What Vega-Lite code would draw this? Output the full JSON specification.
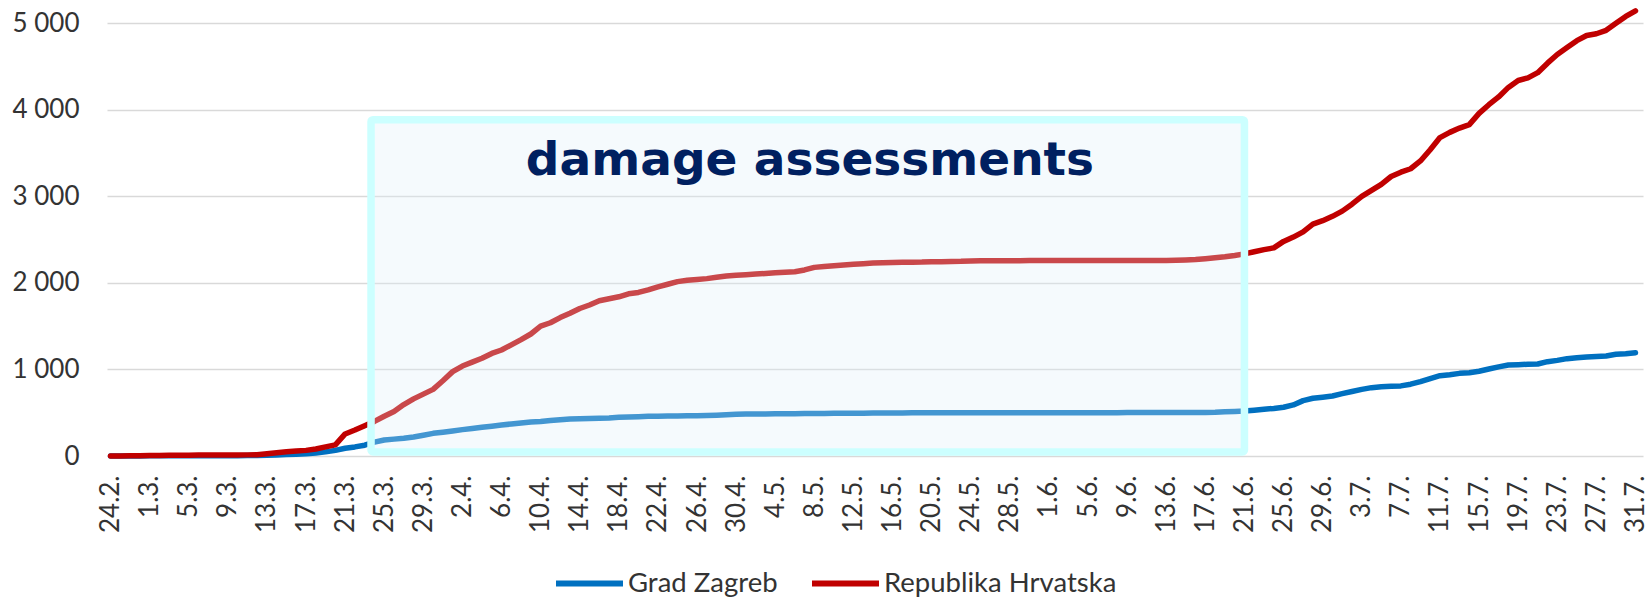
{
  "$schema": "https://vega.github.io/schema/vega-lite/v6.json",
  "width": 1536,
  "height": 456,
  "autosize": {"type": "none"},
  "padding": {"left": 107, "top": 0, "right": 9, "bottom": 142},
  "background": "white",
  "config": {"view": {"stroke": null}},
  "layer": [
    {
      "data": {"values": [
        {"i":0,"date":"24.2.","Grad Zagreb":0,"Republika Hrvatska":0},
        {"i":1,"date":"25.2.","Grad Zagreb":1,"Republika Hrvatska":1},
        {"i":2,"date":"26.2.","Grad Zagreb":1,"Republika Hrvatska":3},
        {"i":3,"date":"27.2.","Grad Zagreb":1,"Republika Hrvatska":3},
        {"i":4,"date":"1.3.","Grad Zagreb":2,"Republika Hrvatska":7},
        {"i":5,"date":"2.3.","Grad Zagreb":2,"Republika Hrvatska":7},
        {"i":6,"date":"3.3.","Grad Zagreb":3,"Republika Hrvatska":9},
        {"i":7,"date":"4.3.","Grad Zagreb":3,"Republika Hrvatska":10},
        {"i":8,"date":"5.3.","Grad Zagreb":3,"Republika Hrvatska":10},
        {"i":9,"date":"6.3.","Grad Zagreb":4,"Republika Hrvatska":11},
        {"i":10,"date":"7.3.","Grad Zagreb":4,"Republika Hrvatska":12},
        {"i":11,"date":"8.3.","Grad Zagreb":4,"Republika Hrvatska":12},
        {"i":12,"date":"9.3.","Grad Zagreb":4,"Republika Hrvatska":12},
        {"i":13,"date":"10.3.","Grad Zagreb":4,"Republika Hrvatska":12},
        {"i":14,"date":"11.3.","Grad Zagreb":5,"Republika Hrvatska":13},
        {"i":15,"date":"12.3.","Grad Zagreb":5,"Republika Hrvatska":14},
        {"i":16,"date":"13.3.","Grad Zagreb":8,"Republika Hrvatska":26},
        {"i":17,"date":"14.3.","Grad Zagreb":12,"Republika Hrvatska":38},
        {"i":18,"date":"15.3.","Grad Zagreb":16,"Republika Hrvatska":49},
        {"i":19,"date":"16.3.","Grad Zagreb":20,"Republika Hrvatska":57},
        {"i":20,"date":"17.3.","Grad Zagreb":25,"Republika Hrvatska":65},
        {"i":21,"date":"18.3.","Grad Zagreb":35,"Republika Hrvatska":81},
        {"i":22,"date":"19.3.","Grad Zagreb":48,"Republika Hrvatska":105},
        {"i":23,"date":"20.3.","Grad Zagreb":65,"Republika Hrvatska":128},
        {"i":24,"date":"21.3.","Grad Zagreb":90,"Republika Hrvatska":255},
        {"i":25,"date":"22.3.","Grad Zagreb":105,"Republika Hrvatska":300},
        {"i":26,"date":"23.3.","Grad Zagreb":125,"Republika Hrvatska":350},
        {"i":27,"date":"24.3.","Grad Zagreb":160,"Republika Hrvatska":400},
        {"i":28,"date":"25.3.","Grad Zagreb":185,"Republika Hrvatska":460},
        {"i":29,"date":"26.3.","Grad Zagreb":195,"Republika Hrvatska":515},
        {"i":30,"date":"27.3.","Grad Zagreb":205,"Republika Hrvatska":595},
        {"i":31,"date":"28.3.","Grad Zagreb":220,"Republika Hrvatska":660},
        {"i":32,"date":"29.3.","Grad Zagreb":240,"Republika Hrvatska":715},
        {"i":33,"date":"30.3.","Grad Zagreb":262,"Republika Hrvatska":770},
        {"i":34,"date":"31.3.","Grad Zagreb":275,"Republika Hrvatska":870},
        {"i":35,"date":"1.4.","Grad Zagreb":290,"Republika Hrvatska":975},
        {"i":36,"date":"2.4.","Grad Zagreb":305,"Republika Hrvatska":1040},
        {"i":37,"date":"3.4.","Grad Zagreb":318,"Republika Hrvatska":1085},
        {"i":38,"date":"4.4.","Grad Zagreb":332,"Republika Hrvatska":1130},
        {"i":39,"date":"5.4.","Grad Zagreb":345,"Republika Hrvatska":1185},
        {"i":40,"date":"6.4.","Grad Zagreb":358,"Republika Hrvatska":1225},
        {"i":41,"date":"7.4.","Grad Zagreb":370,"Republika Hrvatska":1285},
        {"i":42,"date":"8.4.","Grad Zagreb":382,"Republika Hrvatska":1345},
        {"i":43,"date":"9.4.","Grad Zagreb":393,"Republika Hrvatska":1410},
        {"i":44,"date":"10.4.","Grad Zagreb":400,"Republika Hrvatska":1500},
        {"i":45,"date":"11.4.","Grad Zagreb":410,"Republika Hrvatska":1540},
        {"i":46,"date":"12.4.","Grad Zagreb":420,"Republika Hrvatska":1600},
        {"i":47,"date":"13.4.","Grad Zagreb":428,"Republika Hrvatska":1650},
        {"i":48,"date":"14.4.","Grad Zagreb":430,"Republika Hrvatska":1705},
        {"i":49,"date":"15.4.","Grad Zagreb":432,"Republika Hrvatska":1745},
        {"i":50,"date":"16.4.","Grad Zagreb":435,"Republika Hrvatska":1795},
        {"i":51,"date":"17.4.","Grad Zagreb":440,"Republika Hrvatska":1818},
        {"i":52,"date":"18.4.","Grad Zagreb":448,"Republika Hrvatska":1840},
        {"i":53,"date":"19.4.","Grad Zagreb":452,"Republika Hrvatska":1875},
        {"i":54,"date":"20.4.","Grad Zagreb":455,"Republika Hrvatska":1890},
        {"i":55,"date":"21.4.","Grad Zagreb":458,"Republika Hrvatska":1920},
        {"i":56,"date":"22.4.","Grad Zagreb":460,"Republika Hrvatska":1955},
        {"i":57,"date":"23.4.","Grad Zagreb":462,"Republika Hrvatska":1985},
        {"i":58,"date":"24.4.","Grad Zagreb":463,"Republika Hrvatska":2015},
        {"i":59,"date":"25.4.","Grad Zagreb":465,"Republika Hrvatska":2030},
        {"i":60,"date":"26.4.","Grad Zagreb":466,"Republika Hrvatska":2040},
        {"i":61,"date":"27.4.","Grad Zagreb":468,"Republika Hrvatska":2050},
        {"i":62,"date":"28.4.","Grad Zagreb":472,"Republika Hrvatska":2065},
        {"i":63,"date":"29.4.","Grad Zagreb":478,"Republika Hrvatska":2080},
        {"i":64,"date":"30.4.","Grad Zagreb":482,"Republika Hrvatska":2090},
        {"i":65,"date":"1.5.","Grad Zagreb":484,"Republika Hrvatska":2095},
        {"i":66,"date":"2.5.","Grad Zagreb":485,"Republika Hrvatska":2102},
        {"i":67,"date":"3.5.","Grad Zagreb":486,"Republika Hrvatska":2110},
        {"i":68,"date":"4.5.","Grad Zagreb":487,"Republika Hrvatska":2118},
        {"i":69,"date":"5.5.","Grad Zagreb":488,"Republika Hrvatska":2124},
        {"i":70,"date":"6.5.","Grad Zagreb":489,"Republika Hrvatska":2130},
        {"i":71,"date":"7.5.","Grad Zagreb":490,"Republika Hrvatska":2150},
        {"i":72,"date":"8.5.","Grad Zagreb":491,"Republika Hrvatska":2180},
        {"i":73,"date":"9.5.","Grad Zagreb":492,"Republika Hrvatska":2190},
        {"i":74,"date":"10.5.","Grad Zagreb":493,"Republika Hrvatska":2200},
        {"i":75,"date":"11.5.","Grad Zagreb":494,"Republika Hrvatska":2208},
        {"i":76,"date":"12.5.","Grad Zagreb":495,"Republika Hrvatska":2215},
        {"i":77,"date":"13.5.","Grad Zagreb":495,"Republika Hrvatska":2222},
        {"i":78,"date":"14.5.","Grad Zagreb":496,"Republika Hrvatska":2230},
        {"i":79,"date":"15.5.","Grad Zagreb":496,"Republika Hrvatska":2233},
        {"i":80,"date":"16.5.","Grad Zagreb":497,"Republika Hrvatska":2236},
        {"i":81,"date":"17.5.","Grad Zagreb":498,"Republika Hrvatska":2238},
        {"i":82,"date":"18.5.","Grad Zagreb":499,"Republika Hrvatska":2240},
        {"i":83,"date":"19.5.","Grad Zagreb":500,"Republika Hrvatska":2241},
        {"i":84,"date":"20.5.","Grad Zagreb":500,"Republika Hrvatska":2245},
        {"i":85,"date":"21.5.","Grad Zagreb":500,"Republika Hrvatska":2246},
        {"i":86,"date":"22.5.","Grad Zagreb":500,"Republika Hrvatska":2248},
        {"i":87,"date":"23.5.","Grad Zagreb":500,"Republika Hrvatska":2250},
        {"i":88,"date":"24.5.","Grad Zagreb":501,"Republika Hrvatska":2255},
        {"i":89,"date":"25.5.","Grad Zagreb":501,"Republika Hrvatska":2256},
        {"i":90,"date":"26.5.","Grad Zagreb":501,"Republika Hrvatska":2256},
        {"i":91,"date":"27.5.","Grad Zagreb":501,"Republika Hrvatska":2257},
        {"i":92,"date":"28.5.","Grad Zagreb":501,"Republika Hrvatska":2257},
        {"i":93,"date":"29.5.","Grad Zagreb":501,"Republika Hrvatska":2257},
        {"i":94,"date":"30.5.","Grad Zagreb":501,"Republika Hrvatska":2258},
        {"i":95,"date":"31.5.","Grad Zagreb":501,"Republika Hrvatska":2258},
        {"i":96,"date":"1.6.","Grad Zagreb":501,"Republika Hrvatska":2258},
        {"i":97,"date":"2.6.","Grad Zagreb":501,"Republika Hrvatska":2258},
        {"i":98,"date":"3.6.","Grad Zagreb":501,"Republika Hrvatska":2258},
        {"i":99,"date":"4.6.","Grad Zagreb":501,"Republika Hrvatska":2259},
        {"i":100,"date":"5.6.","Grad Zagreb":501,"Republika Hrvatska":2259},
        {"i":101,"date":"6.6.","Grad Zagreb":501,"Republika Hrvatska":2259},
        {"i":102,"date":"7.6.","Grad Zagreb":501,"Republika Hrvatska":2259},
        {"i":103,"date":"8.6.","Grad Zagreb":501,"Republika Hrvatska":2259},
        {"i":104,"date":"9.6.","Grad Zagreb":502,"Republika Hrvatska":2260},
        {"i":105,"date":"10.6.","Grad Zagreb":502,"Republika Hrvatska":2260},
        {"i":106,"date":"11.6.","Grad Zagreb":502,"Republika Hrvatska":2260},
        {"i":107,"date":"12.6.","Grad Zagreb":502,"Republika Hrvatska":2260},
        {"i":108,"date":"13.6.","Grad Zagreb":502,"Republika Hrvatska":2260},
        {"i":109,"date":"14.6.","Grad Zagreb":502,"Republika Hrvatska":2262},
        {"i":110,"date":"15.6.","Grad Zagreb":502,"Republika Hrvatska":2265},
        {"i":111,"date":"16.6.","Grad Zagreb":503,"Republika Hrvatska":2270},
        {"i":112,"date":"17.6.","Grad Zagreb":504,"Republika Hrvatska":2280},
        {"i":113,"date":"18.6.","Grad Zagreb":505,"Republika Hrvatska":2292},
        {"i":114,"date":"19.6.","Grad Zagreb":510,"Republika Hrvatska":2303},
        {"i":115,"date":"20.6.","Grad Zagreb":515,"Republika Hrvatska":2318},
        {"i":116,"date":"21.6.","Grad Zagreb":520,"Republika Hrvatska":2336},
        {"i":117,"date":"22.6.","Grad Zagreb":530,"Republika Hrvatska":2360},
        {"i":118,"date":"23.6.","Grad Zagreb":540,"Republika Hrvatska":2385},
        {"i":119,"date":"24.6.","Grad Zagreb":550,"Republika Hrvatska":2405},
        {"i":120,"date":"25.6.","Grad Zagreb":563,"Republika Hrvatska":2480},
        {"i":121,"date":"26.6.","Grad Zagreb":590,"Republika Hrvatska":2530},
        {"i":122,"date":"27.6.","Grad Zagreb":640,"Republika Hrvatska":2590},
        {"i":123,"date":"28.6.","Grad Zagreb":667,"Republika Hrvatska":2680},
        {"i":124,"date":"29.6.","Grad Zagreb":680,"Republika Hrvatska":2720},
        {"i":125,"date":"30.6.","Grad Zagreb":693,"Republika Hrvatska":2770},
        {"i":126,"date":"1.7.","Grad Zagreb":720,"Republika Hrvatska":2830},
        {"i":127,"date":"2.7.","Grad Zagreb":745,"Republika Hrvatska":2910},
        {"i":128,"date":"3.7.","Grad Zagreb":770,"Republika Hrvatska":3000},
        {"i":129,"date":"4.7.","Grad Zagreb":790,"Republika Hrvatska":3070},
        {"i":130,"date":"5.7.","Grad Zagreb":800,"Republika Hrvatska":3140},
        {"i":131,"date":"6.7.","Grad Zagreb":805,"Republika Hrvatska":3230},
        {"i":132,"date":"7.7.","Grad Zagreb":810,"Republika Hrvatska":3280},
        {"i":133,"date":"8.7.","Grad Zagreb":830,"Republika Hrvatska":3320},
        {"i":134,"date":"9.7.","Grad Zagreb":860,"Republika Hrvatska":3410},
        {"i":135,"date":"10.7.","Grad Zagreb":895,"Republika Hrvatska":3540},
        {"i":136,"date":"11.7.","Grad Zagreb":928,"Republika Hrvatska":3680},
        {"i":137,"date":"12.7.","Grad Zagreb":940,"Republika Hrvatska":3740},
        {"i":138,"date":"13.7.","Grad Zagreb":955,"Republika Hrvatska":3790},
        {"i":139,"date":"14.7.","Grad Zagreb":963,"Republika Hrvatska":3830},
        {"i":140,"date":"15.7.","Grad Zagreb":980,"Republika Hrvatska":3960},
        {"i":141,"date":"16.7.","Grad Zagreb":1005,"Republika Hrvatska":4060},
        {"i":142,"date":"17.7.","Grad Zagreb":1030,"Republika Hrvatska":4150},
        {"i":143,"date":"18.7.","Grad Zagreb":1052,"Republika Hrvatska":4260},
        {"i":144,"date":"19.7.","Grad Zagreb":1055,"Republika Hrvatska":4340},
        {"i":145,"date":"20.7.","Grad Zagreb":1060,"Republika Hrvatska":4370},
        {"i":146,"date":"21.7.","Grad Zagreb":1063,"Republika Hrvatska":4430},
        {"i":147,"date":"22.7.","Grad Zagreb":1090,"Republika Hrvatska":4540},
        {"i":148,"date":"23.7.","Grad Zagreb":1105,"Republika Hrvatska":4640},
        {"i":149,"date":"24.7.","Grad Zagreb":1125,"Republika Hrvatska":4720},
        {"i":150,"date":"25.7.","Grad Zagreb":1136,"Republika Hrvatska":4800},
        {"i":151,"date":"26.7.","Grad Zagreb":1145,"Republika Hrvatska":4860},
        {"i":152,"date":"27.7.","Grad Zagreb":1150,"Republika Hrvatska":4880},
        {"i":153,"date":"28.7.","Grad Zagreb":1156,"Republika Hrvatska":4920},
        {"i":154,"date":"29.7.","Grad Zagreb":1175,"Republika Hrvatska":5000},
        {"i":155,"date":"30.7.","Grad Zagreb":1182,"Republika Hrvatska":5080},
        {"i":156,"date":"31.7.","Grad Zagreb":1194,"Republika Hrvatska":5145}
      ]},
      "transform": [{"fold": ["Grad Zagreb", "Republika Hrvatska"], "as": ["series", "value"]}],
      "mark": {"type": "line", "strokeWidth": 5.5, "strokeCap": "round", "strokeJoin": "round", "clip": false},
      "encoding": {
        "x": {
          "field": "i", "type": "quantitative",
          "scale": {"domain": [-0.36, 156.77], "nice": false, "zero": false},
          "axis": {
            "title": null,
            "values": [0,4,8,12,16,20,24,28,32,36,40,44,48,52,56,60,64,68,72,76,80,84,88,92,96,100,104,108,112,116,120,124,128,132,136,140,144,148,152,156],
            "tickCount": 60,
            "labelExpr": "datum.value == 0 ? '24.2.' : timeFormat(datetime(2020, 2, datum.value - 3), '%-d.%-m.')",
            "labelAngle": -90,
            "labelFont": "Lato",
            "labelFontSize": 26,
            "labelColor": "#333333",
            "labelPadding": 19,
            "labelOverlap": false,
            "labelBound": false,
            "labelFlush": false,
            "ticks": false,
            "domain": false,
            "grid": false
          }
        },
        "y": {
          "field": "value", "type": "quantitative",
          "scale": {"domain": [0, 5270], "nice": false},
          "axis": {
            "title": null,
            "values": [0,1000,2000,3000,4000,5000],
            "labelExpr": "replace(format(datum.value, ','), ',', ' ')",
            "labelFont": "Lato",
            "labelFontSize": 26,
            "labelColor": "#333333",
            "labelPadding": 28,
            "ticks": false,
            "domain": false,
            "grid": true,
            "gridColor": "#D9D9D9",
            "gridWidth": 1.5
          }
        },
        "color": {
          "field": "series", "type": "nominal",
          "scale": {"domain": ["Grad Zagreb", "Republika Hrvatska"], "range": ["#0070C0", "#C00000"]},
          "legend": {
            "title": null,
            "orient": "none",
            "direction": "horizontal",
            "legendX": 446,
            "legendY": 547,
            "symbolType": "stroke",
            "symbolSize": 4489,
            "symbolStrokeWidth": 6,
            "labelFont": "Lato",
            "labelFontSize": 27.5,
            "labelColor": "#333333",
            "labelOffset": 2,
            "labelLimit": 500,
            "columnPadding": 22
          }
        }
      }
    },
    {
      "data": {"values": [{"start": 26.65, "end": 116.0, "low": 46, "high": 3887}]},
      "mark": {"type": "rect", "fill": "#DDEEF8", "fillOpacity": 0.3, "stroke": "#CCFFFF", "strokeWidth": 7.5, "strokeOpacity": 1, "cornerRadius": 2},
      "encoding": {
        "x": {"field": "start", "type": "quantitative"},
        "x2": {"field": "end"},
        "y": {"field": "low", "type": "quantitative"},
        "y2": {"field": "high"}
      }
    },
    {
      "data": {"values": [{"xpos": 71.55, "ypos": 3247, "label": "damage assessments"}]},
      "mark": {"type": "text", "font": "DejaVu Sans", "fontWeight": "bold", "fontSize": 47, "fill": "#002060", "align": "center", "baseline": "alphabetic"},
      "encoding": {
        "x": {"field": "xpos", "type": "quantitative"},
        "y": {"field": "ypos", "type": "quantitative"},
        "text": {"field": "label"}
      }
    }
  ]
}
